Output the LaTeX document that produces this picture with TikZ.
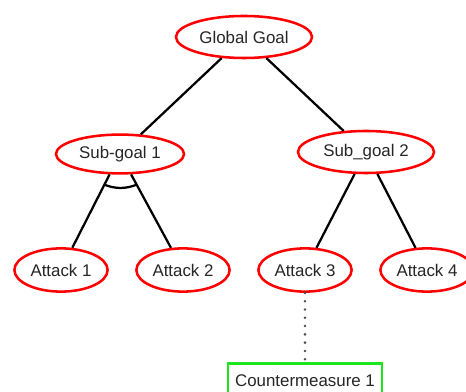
\documentclass[tikz,border=0pt]{standalone}
\usepackage{fontspec}
\setmainfont{Liberation Sans}
\definecolor{atred}{RGB}{255,0,0}
\definecolor{atgreen}{RGB}{30,230,30}
\usetikzlibrary{shapes.geometric,calc}

\begin{document}
\begin{tikzpicture}[x=0.025cm, y=-0.025cm, every node/.style={font=\fontsize{12}{14}\selectfont, text=black!85},
  goal/.style={ellipse, draw=atred, fill=white, line width=1.8pt, inner sep=0pt, minimum width=3.4cm, minimum height=1.05cm},
  attack/.style={ellipse, draw=atred, fill=white, line width=1.8pt, inner sep=0pt, minimum width=2.33cm, minimum height=1.08cm},
  counter/.style={rectangle, draw=atgreen, fill=white, line width=1.6pt, minimum width=3.85cm, minimum height=0.88cm},
  edge/.style={draw=black, line width=1.6pt}]
\useasboundingbox (0,0) rectangle (466,392);
% Goals
\node[goal] (global) at (244,37) {Global Goal};
\node[goal, minimum width=3.2cm, minimum height=0.97cm] (subA) at (120,154) {Sub-goal 1};
\node[goal] (subB) at (366,152) {Sub\_goal 2};
% Attacks
\node[attack] (attA) at (61,270) {Attack 1};
\node[attack] (attB) at (183,270) {Attack 2};
\node[attack] (attC) at (305,270) {Attack 3};
\node[attack] (attD) at (427,270) {Attack 4};
% Countermeasure
\node[counter] (cmA) at (305,381) {Countermeasure 1};
% Edges
\draw[edge] (global) -- (subA);
\draw[edge] (global) -- (subB);
\draw[edge] (subA) -- (attA);
\draw[edge] (subA) -- (attB);
\draw[edge] (subB) -- (attC);
\draw[edge] (subB) -- (attD);
% AND arc
\coordinate (andL) at ($(subA.center)!0.265!(attA.center)$);
\coordinate (andR) at ($(subA.center)!0.265!(attB.center)$);
\draw[edge] (andL) to[bend right=20] (andR);
% Countermeasure link
\draw[black!70, line width=2pt, line cap=round, dash pattern=on 0pt off 5.9pt] (attC) -- (cmA);
\end{tikzpicture}
\end{document}
